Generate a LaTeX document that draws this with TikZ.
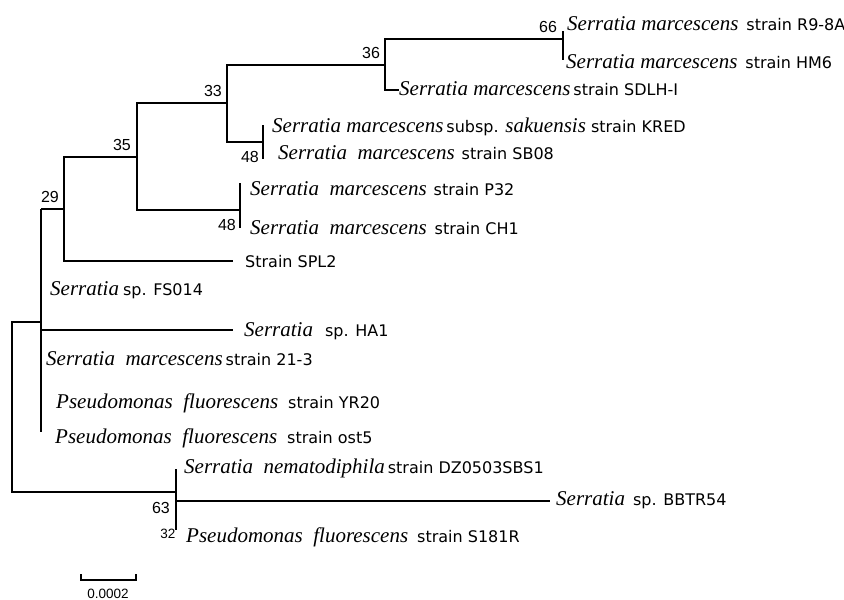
\documentclass[tikz,border=0pt]{standalone}
\usepackage{fontspec}
\setmainfont{Liberation Serif}
\setsansfont{DejaVu Sans}
\newfontfamily\numfont{Liberation Sans}
\newcommand{\GN}[1]{{\rmfamily\itshape\fontsize{21}{23}\selectfont #1}}
\newcommand{\ST}[1]{{\sffamily\fontsize{16}{18}\selectfont #1}}
\begin{document}
\begin{tikzpicture}[x=1pt,y=-1pt,
  br/.style={line width=1.4pt},
  leaf/.style={anchor=base west,inner sep=0pt},
  boot/.style={anchor=base,inner sep=0pt,font=\numfont\fontsize{16}{18}\selectfont},
  bootsm/.style={anchor=base,inner sep=0pt,font=\numfont\fontsize{13.5}{15}\selectfont}]
\useasboundingbox[fill=white] (0,0) rectangle (844,600);
% internal nodes
\coordinate (root) at (12,322);
\coordinate (rootb) at (12,492);
\coordinate (pt) at (41,209);
\coordinate (pb) at (41,432);
\coordinate (pj) at (41,322);
\coordinate (c29) at (64,209);
\coordinate (c35) at (137,157);
\coordinate (c33) at (227,103);
\coordinate (c36) at (385,65);
\coordinate (c66) at (563,39);
\coordinate (c48a) at (263,142);
\coordinate (c48b) at (240,210);
\coordinate (c63) at (176,501);
% leaves
\node[leaf] (r98) at (567,30) {\GN{Serratia marcescens}\ST{\hspace{8pt}strain R9-8A}};
\node[leaf] (hm6) at (566,68) {\GN{Serratia marcescens}\ST{\hspace{8pt}strain HM6}};
\node[leaf] (sdlh) at (399,95) {\GN{Serratia marcescens}\ST{\hspace{3pt}strain SDLH-I}};
\node[leaf] (kred) at (272,132) {\GN{Serratia marcescens}\ST{\hspace{3pt}subsp. }\GN{sakuensis}\ST{\ strain KRED}};
\node[leaf] (sb08) at (278,159) {\GN{Serratia\ \ marcescens}\ST{\hspace{7pt}strain SB08}};
\node[leaf] (p32) at (250,195) {\GN{Serratia\ \ marcescens}\ST{\hspace{7pt}strain P32}};
\node[leaf] (ch1) at (250,234) {\GN{Serratia\ \ marcescens}\ST{\hspace{8pt}strain CH1}};
\node[leaf] (spl2) at (245,267) {\ST{Strain SPL2}};
\node[leaf] (fs014) at (50,295) {\GN{Serratia}\ST{\hspace{4pt}sp. FS014}};
\node[leaf] (ha1) at (244,336) {\GN{Serratia}\ST{\hspace{12pt}sp. HA1}};
\node[leaf] (s213) at (46,365) {\GN{Serratia\ \ marcescens}\ST{\hspace{3pt}strain 21-3}};
\node[leaf] (yr20) at (56,408) {\GN{Pseudomonas\ \ fluorescens}\ST{\hspace{10pt}strain YR20}};
\node[leaf] (ost5) at (55,443) {\GN{Pseudomonas\ \ fluorescens}\ST{\hspace{10pt}strain ost5}};
\node[leaf] (dz) at (184,473) {\GN{Serratia\ \ nematodiphila}\ST{\hspace{3pt}strain DZ0503SBS1}};
\node[leaf] (bbtr) at (556,505) {\GN{Serratia}\ST{\hspace{8pt}sp. BBTR54}};
\node[leaf] (s181) at (186,542) {\GN{Pseudomonas\ \ fluorescens}\ST{\hspace{9pt}strain S181R}};
\coordinate (bbtrw) at (550,501);
\coordinate (spl2w) at (233,261);
\coordinate (ha1w) at (233,330);
\coordinate (ha1j) at (41,330);
\coordinate (sdlhw) at (399,90);
% branches
\draw[br] (pj) -| (rootb) -| (c63);
\draw[br] (pt) -- (pb);
\draw[br] (pt) -- (c29);
\draw[br] (c29) |- (spl2w);
\draw[br] (c29) |- (c35);
\draw[br] (c35) |- (c33);
\draw[br] (c35) |- (c48b);
\draw[br] (c33) |- (c36);
\draw[br] (c33) |- (c48a);
\draw[br] (c36) |- (c66);
\draw[br] (c36) |- (sdlhw);
\draw[br] (c66) ++(0,-8) -- ++(0,29);
\draw[br] (c48a) ++(0,-17) -- ++(0,34);
\draw[br] (c48b) ++(0,-27) -- ++(0,45);
\draw[br] (ha1j) -- (ha1w);
\draw[br] (c63) ++(0,-32) -- ++(0,61);
\draw[br] (c63) -- (bbtrw);
% bootstrap values
\node[boot] (b66) at (548,32) {66};
\node[boot] (b36) at (371,58) {36};
\node[boot] (b33) at (213,96) {33};
\node[boot] (b35) at (122,150) {35};
\node[boot] (b29) at (50,202) {29};
\node[boot] (b48a) at (250,162) {48};
\node[boot] (b48b) at (227,230) {48};
\node[boot] (b63) at (161,513) {63};
\node[bootsm] (b32) at (168,538) {32};
% scale bar
\coordinate (sbl) at (81,580);
\coordinate (sbr) at (136,580);
\draw[line width=1.2pt] (sbl) -- (sbr);
\draw[line width=1.2pt] (sbl) ++(0,-6) -- ++(0,7);
\draw[line width=1.2pt] (sbr) ++(0,-6) -- ++(0,7);
\node[bootsm,anchor=base] (sbt) at (108,598) {0.0002};
\end{tikzpicture}
\end{document}
